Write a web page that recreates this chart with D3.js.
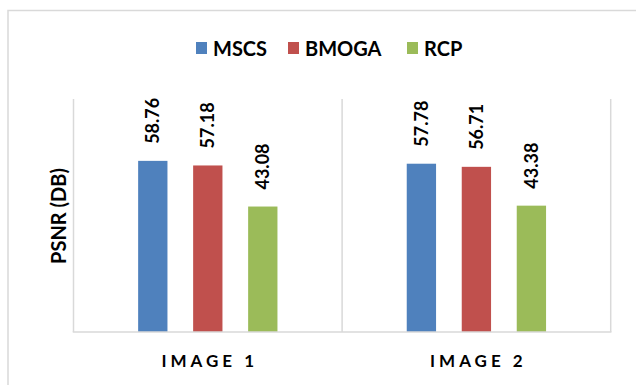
<!DOCTYPE html>
<html>
<head>
<meta charset="utf-8">
<script src="https://cdn.jsdelivr.net/npm/d3@7/dist/d3.min.js"></script>
<style>
  html, body { margin: 0; padding: 0; background: #fff; }
  svg { display: block; }
  text { font-family: Lato, "Open Sans", sans-serif; font-weight: 700; fill: #000; }
</style>
</head>
<body>
<svg id="chart" width="636" height="385"></svg>
<script>
// PSNR per test image for each method
const categories = ["IMAGE 1", "IMAGE 2"];
const series = ["MSCS", "BMOGA", "RCP"];
const mscs = [58.76, 57.78];
const bmoga = [57.18, 56.71];
const rcp = [43.08, 43.38];
const yTicks = [0, 80];
const colors = ["#4f81bd", "#c0504d", "#9bbb59"];

const values = [mscs, bmoga, rcp];
const rows = categories.map((c, i) => ({
  cat: c,
  bars: series.map((s, j) => ({ name: s, value: values[j][i], color: colors[j] }))
}));

const svg = d3.select("#chart");
const gridColor = "#d9d9d9";

// outer chart frame (extends past the right and bottom edges)
svg.append("rect")
  .attr("x", 8).attr("y", 10.5)
  .attr("width", 700).attr("height", 500)
  .attr("fill", "none")
  .attr("stroke", gridColor).attr("stroke-width", 1.5);

const plot = { left: 73.5, right: 610.7, top: 99, bottom: 332 };

const x = d3.scaleBand().domain(categories).range([plot.left, plot.right]).padding(0);
const y = d3.scaleLinear().domain([yTicks[0], yTicks[1]]).range([plot.bottom, plot.top]);

const sub = d3.scaleBand().domain(series).range([-82.5, 82.5])
  .paddingInner(0.467).paddingOuter(0.2335);

// vertical category dividers
const dividers = [plot.left, ...categories.map(c => x(c) + x.bandwidth())];
svg.append("g").selectAll("line").data(dividers).join("line")
  .attr("x1", d => d).attr("x2", d => d)
  .attr("y1", plot.top).attr("y2", plot.bottom)
  .attr("stroke", gridColor).attr("stroke-width", 1.5);

// bars
const groups = svg.append("g").selectAll("g").data(rows).join("g")
  .attr("transform", d => `translate(${x(d.cat) + x.bandwidth() / 2},0)`);

groups.selectAll("rect").data(d => d.bars).join("rect")
  .attr("x", d => sub(d.name))
  .attr("width", sub.bandwidth())
  .attr("y", d => y(d.value))
  .attr("height", d => y(0) - y(d.value))
  .attr("fill", d => d.color);

// value labels, rotated
groups.selectAll("text.val").data(d => d.bars).join("text")
  .attr("class", "val")
  .attr("transform", d => `translate(${sub(d.name) + sub.bandwidth() / 2 + 6.5},${y(d.value) - 17}) rotate(-90)`)
  .attr("text-anchor", "start")
  .style("font-size", "18px")
  .text(d => d.value.toFixed(2));

// baseline
svg.append("line")
  .attr("x1", plot.left - 0.75).attr("x2", plot.right + 0.75)
  .attr("y1", plot.bottom).attr("y2", plot.bottom)
  .attr("stroke", gridColor).attr("stroke-width", 1.5);

// category labels
svg.append("g").selectAll("text").data(categories).join("text")
  .attr("x", d => x(d) + x.bandwidth() / 2 + 2)
  .attr("y", 367)
  .attr("text-anchor", "middle")
  .style("font-size", "17px")
  .style("letter-spacing", "4px")
  .text(d => d);

// y-axis title
svg.append("text")
  .attr("transform", `translate(65.5,216) rotate(-90)`)
  .attr("text-anchor", "middle")
  .style("font-size", "20px")
  .text("PSNR (DB)");

// legend
const legendX = [196, 288, 407];
const legend = svg.append("g").selectAll("g").data(series).join("g")
  .attr("transform", (d, i) => `translate(${legendX[i]},0)`);
legend.append("rect")
  .attr("x", 0).attr("y", 42).attr("width", 11).attr("height", 12)
  .attr("fill", (d, i) => colors[i]);
legend.append("text")
  .attr("x", 17).attr("y", 56)
  .style("font-size", "20px")
  .text(d => d);
</script>
</body>
</html>
